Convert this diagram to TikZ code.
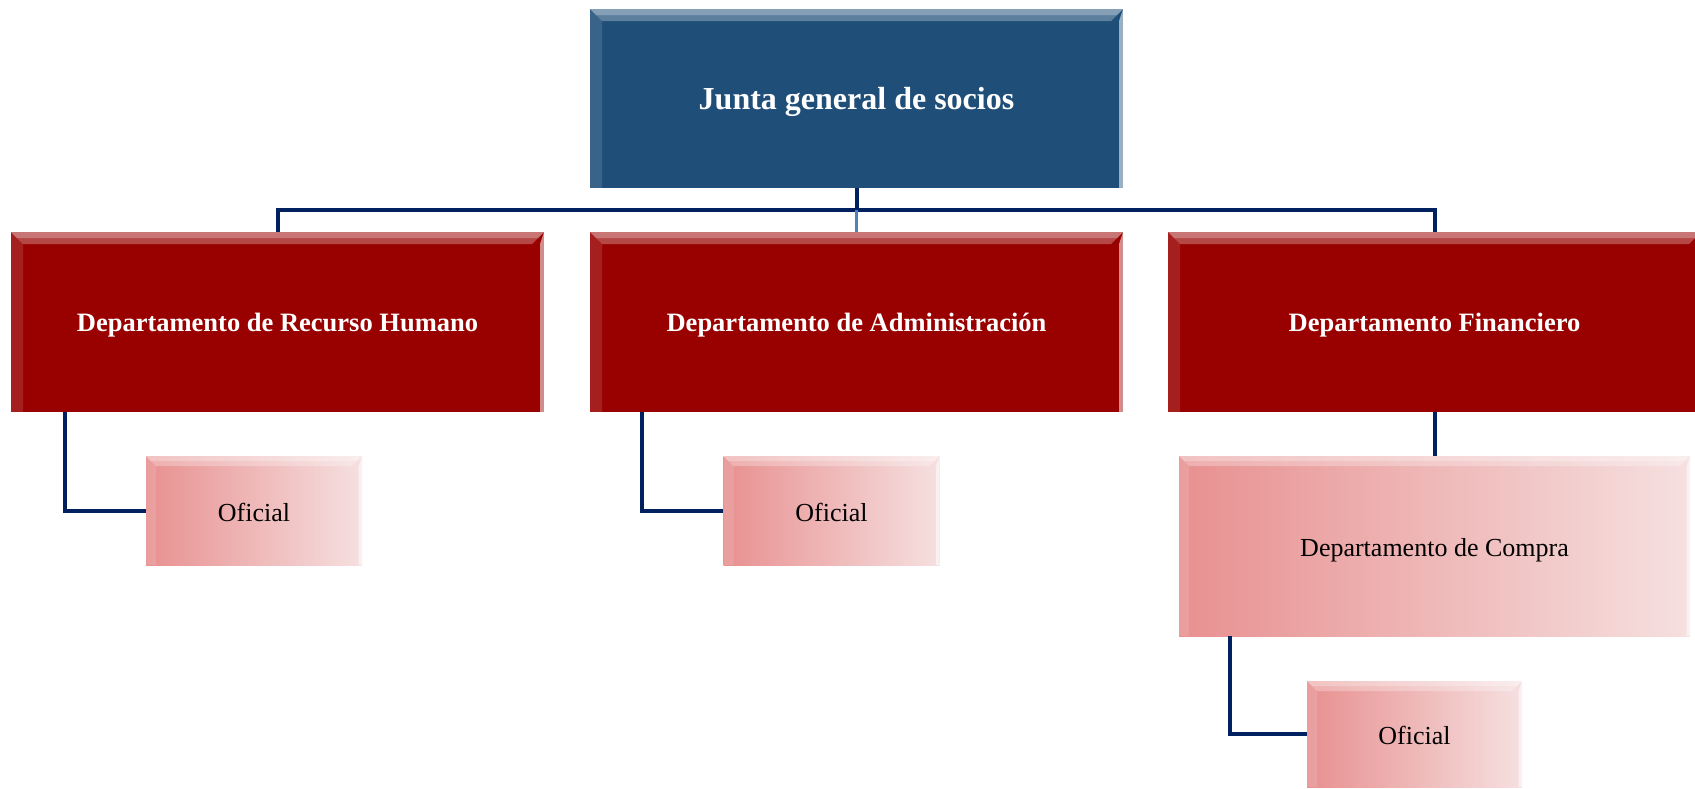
\documentclass[tikz,border=0pt]{standalone}
\usepackage{fontspec}
\setmainfont{Liberation Serif}
\definecolor{topblue}{RGB}{31,78,121}
\definecolor{darkred}{RGB}{153,0,0}
\definecolor{pinkL}{RGB}{232,144,144}
\definecolor{pinkR}{RGB}{246,224,224}
\definecolor{linecol}{RGB}{0,32,96}
\definecolor{lightblue}{RGB}{79,129,189}
\newcommand\mydown[2]{\raisebox{-#1}[\height][\depth]{#2}}
\tikzset{
  bevel/.style={path picture={
    \path (path picture bounding box.north west) coordinate (bnw)
          (path picture bounding box.north east) coordinate (bne)
          (path picture bounding box.south west) coordinate (bsw)
          (path picture bounding box.south east) coordinate (bse);
    \fill[white,opacity=.28] (bnw) -- (bne) -- ([shift={(-#1,-#1)}]bne) -- ([shift={(#1,-#1)}]bnw) -- cycle;
    \fill[white,opacity=.25] (bnw) -- (bne) -- ([shift={(-#1/2,-#1/2)}]bne) -- ([shift={(#1/2,-#1/2)}]bnw) -- cycle;
    \fill[white,opacity=.12] (bnw) -- ([shift={(#1,-#1)}]bnw) -- ([shift={(#1,0pt)}]bsw) -- (bsw) -- cycle;
    \fill[white,opacity=.55] (bne) -- ([shift={(-#1/3,-#1)}]bne) -- ([shift={(-#1/3,0pt)}]bse) -- (bse) -- cycle;
  }},
  conn/.style={draw=linecol,line width=4pt,line join=miter},
  orgbox/.style={rectangle,inner sep=0pt},
  bluebox/.style={orgbox,fill=topblue,text=white,font=\fontsize{32}{38}\selectfont\bfseries,bevel=12pt},
  redbox/.style={orgbox,fill=darkred,text=white,font=\fontsize{26.5}{32}\selectfont\bfseries,bevel=12pt,minimum width=533pt,minimum height=180pt},
  pinkbox/.style={orgbox,left color=pinkL,right color=pinkR,text=black,font=\fontsize{26}{31}\selectfont,bevel=10pt},
}
\begin{document}
\begin{tikzpicture}[x=1pt,y=-1pt]
\useasboundingbox[fill=white] (0,0) rectangle (1695,788);

\node[bluebox,minimum width=533pt,minimum height=179pt] (top) at (856.5,98.5) {\mydown{3pt}{Junta general de socios}};
\node[redbox] (rh) at (277.5,322) {\mydown{3pt}{Departamento de Recurso Humano}};
\node[redbox] (ad) at (856.5,322) {\mydown{3pt}{Departamento de Administración}};
\node[redbox] (fi) at (1434.5,322) {\mydown{3pt}{Departamento Financiero}};
\node[pinkbox,minimum width=216pt,minimum height=109pt] (of1) at (254,510.5) {\mydown{1.5pt}{Oficial}};
\node[pinkbox,minimum width=216pt,minimum height=109pt] (of2) at (831.5,510.5) {\mydown{1.5pt}{Oficial}};
\node[pinkbox,minimum width=511pt,minimum height=180pt] (co) at (1434.5,546) {\mydown{4pt}{Departamento de Compra}};
\node[pinkbox,minimum width=215pt,minimum height=106pt] (of3) at (1414.5,734) {\mydown{1.5pt}{Oficial}};

\coordinate (bus) at (856.5,210);
\draw[conn] (top.south) -- (bus);
\draw[conn] (rh.north) |- (bus) -| (fi.north);
\draw[draw=lightblue,line width=3pt] (bus) -- (ad.north);
\draw[conn] ([xshift=54pt]rh.south west) |- (of1.west);
\draw[conn] ([xshift=52pt]ad.south west) |- (of2.west);
\draw[conn] (fi.south) -- (co.north);
\draw[conn] ([xshift=51pt]co.south west) |- (of3.west);
\end{tikzpicture}
\end{document}
